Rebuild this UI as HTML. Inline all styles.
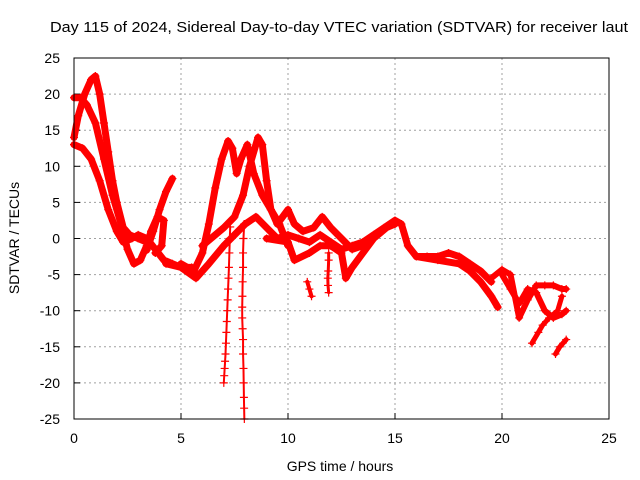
<!DOCTYPE html>
<html><head><meta charset="utf-8">
<style>
body{margin:0;background:#fff;}
svg{display:block;font-family:"Liberation Sans",sans-serif;}
</style></head>
<body>
<svg id="chart" width="640" height="480" viewBox="0 0 640 480">
<text x="339" y="32" font-size="15" text-anchor="middle" textLength="578" lengthAdjust="spacingAndGlyphs">Day 115 of 2024, Sidereal Day-to-day VTEC variation (SDTVAR) for receiver laut</text>
<text x="340" y="471" font-size="14" text-anchor="middle">GPS time / hours</text>
<text x="19" y="238" font-size="14" text-anchor="middle" transform="rotate(-90 19 238)">SDTVAR / TECUs</text>
<g id="grid"></g>
<g id="ticks"></g>
<g id="series"></g>
<rect x="74" y="58" width="535" height="361" fill="none" stroke="#000" stroke-width="1"/>
</svg>
<script>
const xTicks=[0,5,10,15,20,25];
const yTicks=[25,20,15,10,5,0,-5,-10,-15,-20,-25];
// track data (hours, TECU)
const t1Hours=[0,0.2,0.5,0.8,1.0,1.2,1.4,1.6,1.8,2.0,2.3,2.6,3.0,3.4];
const t1Vals=[14,17,20,22,22.5,20,16,12,8,5,1.5,0.5,0,-0.5];
const t2Hours=[0,0.3,0.6,1.0,1.4,1.8,2.2,2.5,2.8,3.1,3.4,3.6,3.9,4.2,4.1,3.8];
const t2Vals=[19.5,19.5,18.5,16,11,6,2,-1.5,-3.5,-3,-1,1,3,2.5,-1,-2];
const t3Hours=[0,0.4,0.8,1.2,1.6,2.0,2.3,2.7,3.0,3.4,3.8,4.2,4.6,5.0,5.5];
const t3Vals=[13,12.5,11,8,4,1,-0.5,0,0.5,0,-1.5,-3,-3.5,-4,-4];
const t4Hours=[3.4,3.7,4.0,4.3,4.6];
const t4Vals=[-1.6,1,4,6.5,8.3];
const t5Hours=[4.3,5.0,5.7,6.3,7.0,7.5,8.0,8.5,9.0,9.5,10,10.5,11,11.5,12,12.5,13,13.5,14,14.5,15,15.3,15.6,16,16.5,17,17.5,18,18.5,19,19.5];
const t5Vals=[-3.5,-4,-5.5,-3.5,-1,0.5,2,3,1.5,0,0.5,0,-0.5,0.5,-0.5,-1.5,-1,-0.5,0.5,1.5,2.5,2,-1,-2.5,-2.5,-2.5,-2,-2.5,-3.5,-4.5,-6];
const t6Hours=[5.0,5.6,6.0,6.3,6.6,6.9,7.2,7.4,7.6,7.8,8.1,8.4,8.8,9.2,9.6,10];
const t6Vals=[-3.5,-4.5,-2,2,7,11,13.5,12.5,9,11,13,9,6,4,2,-1];
const t7Hours=[6.0,7.0,7.5,7.9,8.2,8.6,8.8,9.0,9.2,9.5,10,10.3,10.7,11.2,11.6,12,12.5,13,13.5];
const t7Vals=[-1,1.5,3,6,10,14,13,8,4,2,4,2,1,1.5,3,1.5,0,-1.5,-1];
const t8Hours=[9,10,10.3,11,11.5,12,12.5,12.7,13,13.5,14,14.6,15];
const t8Vals=[0,-0.5,-3,-2,-1,-1,-2,-5.5,-4,-2,0,1.5,2];
const t9Hours=[16,17,18,18.5,19,19.5,19.8];
const t9Vals=[-2.5,-3,-3.5,-4.5,-6,-8,-9.5];
const t10Hours=[19.5,20,20.4,20.8,21.2,21.6,22.0,22.4,22.8,23.0];
const t10Vals=[-5.5,-4.3,-5,-11,-8.5,-6.5,-6.5,-6.5,-7,-7];
const t11Hours=[20.0,20.4,20.8,21.2,21.6,22.0,22.4,22.8,23.0];
const t11Vals=[-5,-7,-9,-7,-7.5,-10,-11,-10.5,-10];
const t12Hours=[21.4,21.7,21.9,22.2,22.6,22.8];
const t12Vals=[-14.5,-13,-12,-11,-10,-8];
const t13Hours=[22.5,22.7,23.0];
const t13Vals=[-16,-15,-14];
const spike1Hours=[7.3,7.28,7.26,7.24,7.22,7.2,7.18,7.16,7.14,7.12,7.1,7.08,7.06,7.04,7.02,7.0];
const spike1Vals=[1.6,0,-2,-4,-5.5,-7,-8.5,-10,-11.5,-13,-14.5,-16,-17,-18,-19,-20];
const spike2Hours=[7.95,7.92,7.9,7.9,7.88,7.87,7.86,7.86,7.88,7.9,7.9,7.92,7.93,7.94,7.95,7.96];
const spike2Vals=[2,0,-2,-4,-6,-8,-9.5,-11,-12.5,-14,-16,-18,-20,-22,-23.5,-25];
const spike3Hours=[11.9,11.9,11.88,11.86,11.87,11.9];
const spike3Vals=[-2,-3,-4.5,-5.5,-6.5,-7.5];
const spot1Hours=[10.9,11.0,11.1];
const spot1Vals=[-6,-7,-8];

const X=v=>74+v*21.4, Y=v=>238.5-v*7.22;
const NS='http://www.w3.org/2000/svg';
const grid=document.getElementById('grid'), ticks=document.getElementById('ticks'), series=document.getElementById('series');
function mk(tag,attrs,parent){const e=document.createElementNS(NS,tag);for(const k in attrs)e.setAttribute(k,attrs[k]);parent.appendChild(e);return e;}
xTicks.forEach(t=>{
  if(t>0&&t<25){const g=mk('line',{x1:X(t),x2:X(t),y1:58,y2:419,stroke:'#a0a0a0','stroke-dasharray':'2,3'},grid);
  
  }
  const l=mk('text',{x:X(t),y:443,'font-size':14,'text-anchor':'middle'},ticks);l.textContent=t;
  
  
  mk('line',{x1:X(t),x2:X(t),y1:419,y2:413,stroke:'#000'},ticks);
});
yTicks.forEach(t=>{
  if(t>-25&&t<25){const g=mk('line',{x1:74,x2:609,y1:Y(t),y2:Y(t),stroke:'#a0a0a0','stroke-dasharray':'2,3'},grid);
  
  }
  const l=mk('text',{x:60,y:Y(t)+5,'font-size':14,'text-anchor':'end'},ticks);l.textContent=t;
  
  
  mk('line',{x1:74,x2:80,y1:Y(t),y2:Y(t),stroke:'#000'},ticks);
});
function track(hs,vs,name,w){
  const g=mk('g',{},series);
  
  
  if(w>0){const pts=hs.map((h,i)=>X(h)+','+Y(vs[i])).join(' ');
    mk('polyline',{points:pts,fill:'none',stroke:'#ff0000','stroke-width':w,'stroke-linejoin':'round','stroke-linecap':'round'},g);}
  hs.forEach((h,i)=>{const x=X(h),y=Y(vs[i]);
    mk('path',{d:`M${x-4},${y}H${x+4}M${x},${y-4}V${y+4}`,stroke:'#ff0000','stroke-width':1.2},g);});
}
track(t1Hours,t1Vals,'track-1',7);
track(t2Hours,t2Vals,'track-2',7);
track(t3Hours,t3Vals,'track-3',7);
track(t4Hours,t4Vals,'track-4',7);
track(t5Hours,t5Vals,'track-5',7);
track(t6Hours,t6Vals,'track-6',7);
track(t7Hours,t7Vals,'track-7',7);
track(t8Hours,t8Vals,'track-8',7);
track(t9Hours,t9Vals,'track-9',7);
track(t10Hours,t10Vals,'track-10',6);
track(t11Hours,t11Vals,'track-11',6);
track(t12Hours,t12Vals,'track-12',5);
track(t13Hours,t13Vals,'track-13',5);
track(spike1Hours,spike1Vals,'spike-1',2);
track(spike2Hours,spike2Vals,'spike-2',2);
track(spike3Hours,spike3Vals,'spike-3',3);
track(spot1Hours,spot1Vals,'spot-1',4);
</script>
</body></html>
